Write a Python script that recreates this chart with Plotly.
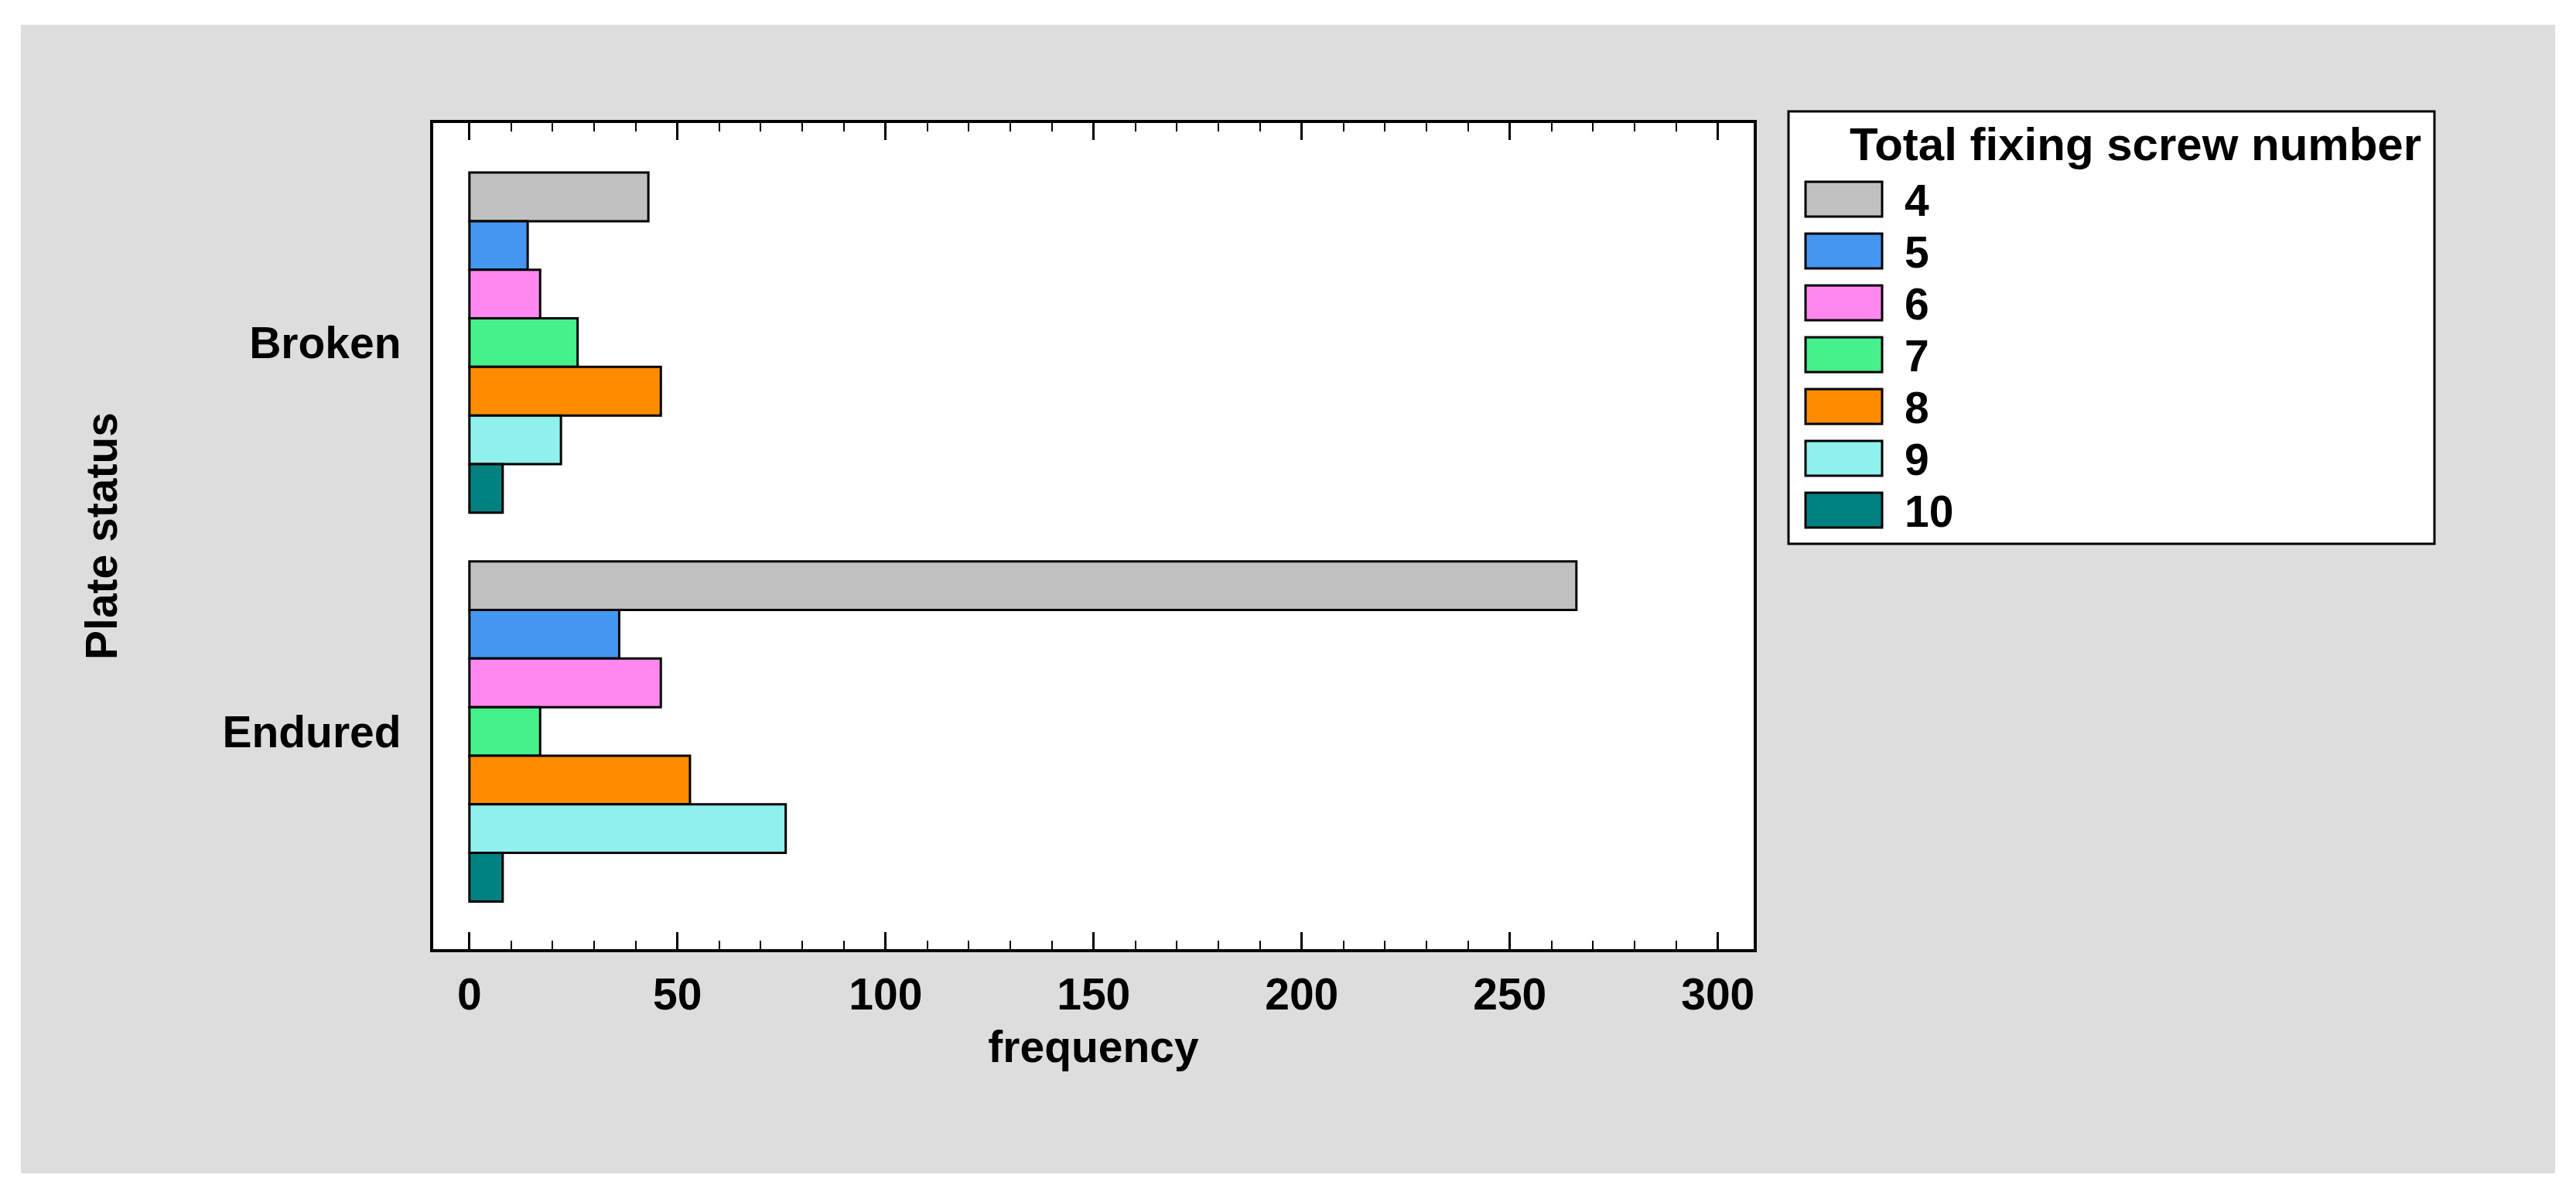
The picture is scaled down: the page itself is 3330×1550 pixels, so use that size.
import plotly.graph_objects as go

# Data
statuses = ['Broken', 'Endured']
screw_numbers = ['4', '5', '6', '7', '8', '9', '10']
broken_counts = [43, 14, 17, 26, 46, 22, 8]
endured_counts = [266, 36, 46, 17, 53, 76, 8]
bar_colors = ['#C0C0C0', '#4496F0', '#FF88F0', '#46F08A', '#FF8C00', '#8FF0EE', '#008080']
x_ticks = [0, 50, 100, 150, 200, 250, 300]

# Page geometry (px). The html body has an 8px margin, so the figure
# is made smaller and every page position is shifted by that margin.
body_margin = 8
fig_w, fig_h = 3330 - 2 * body_margin, 1550 - 2 * body_margin
plot_left, plot_right, plot_top, plot_bottom = 560, 2267, 159, 1227
m_l = plot_left - body_margin
m_t = plot_top - body_margin
m_r = fig_w - (plot_right - body_margin)
m_b = fig_h - (plot_bottom - body_margin)
plot_w = fig_w - m_l - m_r
plot_h = fig_h - m_t - m_b

font_family = 'Liberation Sans, Arial, sans-serif'
font_size = 57


def px_x(px):
    '''Convert a page pixel x to paper coordinates.'''
    return (px - body_margin - m_l) / plot_w


def px_y(py):
    '''Convert a page pixel y to paper coordinates.'''
    return (fig_h - m_b - (py - body_margin)) / plot_h


# Build bar traces
traces = []
for i, name in enumerate(screw_numbers):
    traces.append(go.Bar(y = statuses,
                         x = [broken_counts[i], endured_counts[i]],
                         orientation = 'h',
                         name = name,
                         marker = {'color' : bar_colors[i],
                                   'line' : {'color' : 'black', 'width' : 3}},
                         showlegend = False))

# Background panels
shapes = [{'type' : 'rect', 'xref' : 'paper', 'yref' : 'paper', 'layer' : 'below',
           'x0' : px_x(27), 'x1' : px_x(3303), 'y0' : px_y(1517), 'y1' : px_y(32),
           'fillcolor' : '#DDDDDD', 'line' : {'width' : 0}},
          {'type' : 'rect', 'xref' : 'paper', 'yref' : 'paper', 'layer' : 'below',
           'x0' : 0, 'x1' : 1, 'y0' : 0, 'y1' : 1,
           'fillcolor' : 'white', 'line' : {'width' : 0}}]

# Legend box drawn by hand so swatches match the original size
shapes.append({'type' : 'rect', 'xref' : 'paper', 'yref' : 'paper',
               'x0' : px_x(2312), 'x1' : px_x(3147), 'y0' : px_y(703), 'y1' : px_y(144),
               'fillcolor' : 'white', 'line' : {'color' : 'black', 'width' : 3}})

annotations = [{'text' : '<b>Total fixing screw number</b>', 'xref' : 'paper', 'yref' : 'paper',
                'x' : px_x(2760), 'y' : px_y(187), 'xanchor' : 'center', 'yanchor' : 'middle',
                'showarrow' : False, 'font' : {'size' : 60, 'family' : font_family, 'color' : 'black'}}]

item_pitch = 67
for i, name in enumerate(screw_numbers):
    top = 235 + i * item_pitch
    shapes.append({'type' : 'rect', 'xref' : 'paper', 'yref' : 'paper',
                   'x0' : px_x(2334), 'x1' : px_x(2433), 'y0' : px_y(top + 45), 'y1' : px_y(top),
                   'fillcolor' : bar_colors[i], 'line' : {'color' : 'black', 'width' : 3}})
    annotations.append({'text' : '<b>' + name + '</b>', 'xref' : 'paper', 'yref' : 'paper',
                        'x' : px_x(2460), 'y' : px_y(top + 24), 'xanchor' : 'left', 'yanchor' : 'middle',
                        'showarrow' : False,
                        'font' : {'size' : font_size, 'family' : font_family, 'color' : 'black'}})

tick_font = {'size' : font_size, 'family' : font_family, 'color' : 'black', 'weight' : 'bold'}

xaxis_dict = {'range' : [-8.7, 308.6],
              'tickvals' : x_ticks,
              'ticks' : 'inside',
              'ticklen' : 22,
              'tickwidth' : 3,
              'tickcolor' : 'black',
              'minor' : {'dtick' : 10, 'ticks' : 'inside', 'ticklen' : 11, 'tickwidth' : 2, 'tickcolor' : 'black'},
              'showline' : True,
              'linecolor' : 'black',
              'linewidth' : 4,
              'mirror' : 'ticks',
              'showgrid' : False,
              'zeroline' : False,
              'tickfont' : tick_font,
              'ticklabelstandoff' : 6,
              'title' : {'text' : 'frequency', 'font' : tick_font, 'standoff' : 18}}

yaxis_dict = {'type' : 'category',
              'range' : [1.56, -0.565],
              'ticks' : '',
              'showline' : True,
              'linecolor' : 'black',
              'linewidth' : 4,
              'mirror' : True,
              'showgrid' : False,
              'zeroline' : False,
              'tickfont' : tick_font,
              'ticklabelstandoff' : 26,
              'title' : {'text' : 'Plate status', 'font' : tick_font, 'standoff' : 118}}

fig = go.Figure(data = traces,
                layout = go.Layout(width = fig_w,
                                   height = fig_h,
                                   margin = {'l' : m_l, 'r' : m_r, 't' : m_t, 'b' : m_b},
                                   paper_bgcolor = 'white',
                                   plot_bgcolor = 'rgba(0,0,0,0)',
                                   barmode = 'group',
                                   bargap = 0.125,
                                   bargroupgap = 0,
                                   showlegend = False,
                                   shapes = shapes,
                                   annotations = annotations,
                                   xaxis = xaxis_dict,
                                   yaxis = yaxis_dict))

fig.write_html('out.html')
